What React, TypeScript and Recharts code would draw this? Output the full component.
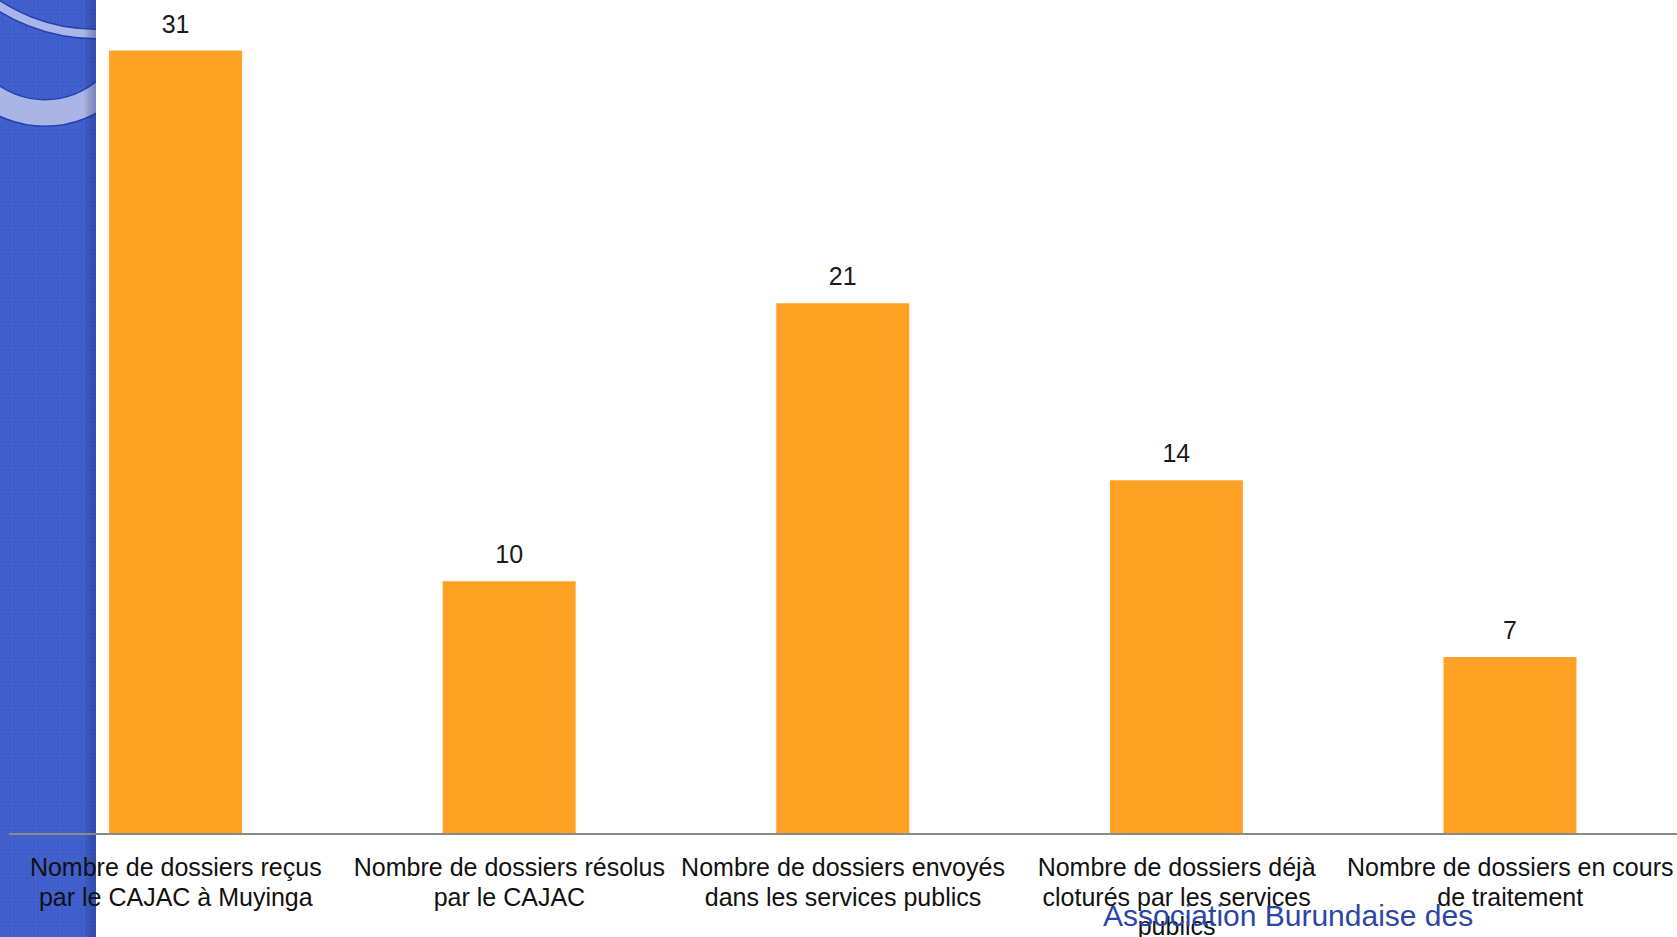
import { Bar, BarChart, LabelList, XAxis, YAxis } from "recharts"

// catégories (retours à la ligne comme sur la diapo)
const categories = [
    "Nombre de dossiers reçus\npar le CAJAC à Muyinga",
    "Nombre de dossiers résolus\npar le CAJAC",
    "Nombre de dossiers envoyés\ndans les services publics",
    "Nombre de dossiers déjà\ncloturés par les services\npublics",
    "Nombre de dossiers en cours\nde traitement",
]
const valeurs = [31, 10, 21, 14, 7]
const footerText = "Association Burundaise des"

const data = categories.map((name, i) => ({ name, value: valeurs[i] }))

const FONT = "'Liberation Sans', Arial, sans-serif"

function Tick(props: any) {
    const { x, y, payload } = props
    const lines = String(payload.value).split("\n")
    return <g>
        {lines.map((l: string, i: number) =>
            <text key={i} x={x} y={y + 42 + i * 29.5} textAnchor="middle"
                fontFamily={FONT} fontSize={25} fill="#111">{l}</text>
        )}
    </g>
}

function Bandeau() {
    // bande bleue décorative à gauche de la diapo
    return <svg width={96} height={937} style={{ position: "absolute", left: 0, top: 0 }}>
        <defs>
            <pattern id="dam" width="12" height="12" patternUnits="userSpaceOnUse">
                <rect width="12" height="12" fill="#4261cf" />
                <rect x="2" y="2" width="8" height="8" fill="none" stroke="#3d5bc6" strokeWidth="1.5" />
            </pattern>
            <linearGradient id="ombre" x1="0" x2="1">
                <stop offset="0" stopColor="#000" stopOpacity="0" />
                <stop offset="1" stopColor="#1a2a80" stopOpacity="0.35" />
            </linearGradient>
        </defs>
        <rect width={96} height={937} fill="url(#dam)" />
        <circle cx={96} cy={-146} r={180} fill="none" stroke="#2443b0" strokeWidth={11} />
        <circle cx={96} cy={-146} r={180} fill="none" stroke="#aab6ea" strokeWidth={8} />
        <circle cx={45} cy={19} r={94} fill="none" stroke="#2443b0" strokeWidth={28} />
        <circle cx={45} cy={19} r={94} fill="none" stroke="#a9b5e6" strokeWidth={25} />
        <rect x={84} width={12} height={937} fill="url(#ombre)" />
    </svg>
}

export default function App() {
    return <div style={{ position: "absolute", left: 0, top: 0, width: 1677, height: 937, background: "#fff", overflow: "hidden" }}>
        <Bandeau />
        <div style={{ position: "absolute", left: 0, top: 0 }}>
            <BarChart width={1677} height={937} data={data} margin={{ top: 0, right: 0, bottom: 0, left: 9 }} barCategoryGap="30%">
                <XAxis dataKey="name" height={103} tickSize={0} tickMargin={0} tickLine={false}
                    axisLine={{ stroke: "#8a8a8a", strokeWidth: 2 }} tick={<Tick />} interval={0} />
                <YAxis hide domain={[0, 33]} />
                <Bar dataKey="value" fill="#ffa125" isAnimationActive={false}>
                    <LabelList dataKey="value" position="top" offset={18}
                        style={{ fontFamily: FONT, fontSize: 25, fill: "#1a1a1a" }} />
                </Bar>
            </BarChart>
        </div>
        <div style={{ position: "absolute", left: 1103, top: 898, fontFamily: FONT, fontSize: 30, color: "#2b45a8", whiteSpace: "nowrap", lineHeight: "36px" }}>
            {footerText}
        </div>
    </div>
}
